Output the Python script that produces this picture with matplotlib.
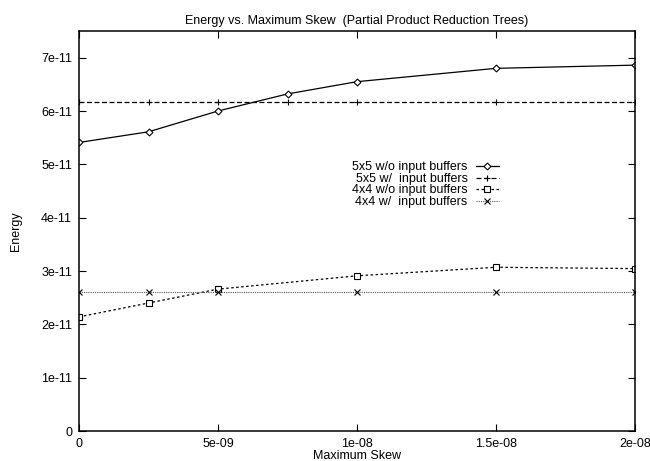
import numpy as np
import matplotlib
matplotlib.use('Agg')
import matplotlib.pyplot as plt
from matplotlib.ticker import FuncFormatter, FixedLocator

plt.rcParams['font.family'] = ['Liberation Sans', 'DejaVu Sans']

# data
skew5 = [0, 2.5e-9, 5e-9, 7.5e-9, 1e-8, 1.5e-8, 2e-8]
e5_wo = [5.41e-11, 5.61e-11, 6.00e-11, 6.32e-11, 6.55e-11, 6.80e-11, 6.86e-11]
e5_w = [6.16e-11, 6.16e-11, 6.16e-11, 6.16e-11, 6.16e-11, 6.16e-11, 6.16e-11]
skew4 = [0, 2.5e-9, 5e-9, 1e-8, 1.5e-8, 2e-8]
e4_wo = [2.14e-11, 2.40e-11, 2.66e-11, 2.91e-11, 3.07e-11, 3.045e-11]
e4_w = [2.61e-11, 2.61e-11, 2.61e-11, 2.61e-11, 2.61e-11, 2.61e-11]

labels = ['5x5 w/o input buffers', '5x5 w/  input buffers',
          '4x4 w/o input buffers', '4x4 w/  input buffers']
xticks = [0, 5e-9, 1e-8, 1.5e-8, 2e-8]
yticks = [0, 1e-11, 2e-11, 3e-11, 4e-11, 5e-11, 6e-11, 7e-11]

fs = 9
fig = plt.figure(figsize=(6.5, 4.61), dpi=100)
ax = fig.add_axes([79/650, 30/461, 556/650, 400/461])

ax.plot(skew5, e5_wo, color='black', lw=0.9, ls='-', marker='D', ms=3.5,
        mfc='white', mec='black', mew=0.8, label=labels[0])
ax.plot(skew5, e5_w, color='black', lw=0.9, ls=(0, (4, 2)), marker='+', ms=5,
        mew=0.8, label=labels[1])
ax.plot(skew4, e4_wo, color='black', lw=0.9, ls=(0, (2, 2)), marker='s', ms=4,
        mfc='white', mec='black', mew=0.8, label=labels[2])
ax.plot(skew4, e4_w, color='#555555', lw=0.8, ls=(0, (1, 1)), marker='x', ms=4,
        mec='black', mew=0.8, label=labels[3])

ax.set_xlim(0, 2e-8)
ax.set_ylim(0, 7.5e-11)
ax.xaxis.set_major_locator(FixedLocator(xticks))
ax.yaxis.set_major_locator(FixedLocator(yticks))
fmt = FuncFormatter(lambda v, p: '%g' % v)
ax.xaxis.set_major_formatter(fmt)
ax.yaxis.set_major_formatter(fmt)
ax.tick_params(direction='in', length=5, width=0.8, top=True, right=True,
               labelsize=fs, pad=5)
for s in ax.spines.values():
    s.set_linewidth(1.1)

ax.set_title('Energy vs. Maximum Skew  (Partial Product Reduction Trees)',
             fontsize=fs, pad=5)
ax.set_xlabel('Maximum Skew', fontsize=fs, labelpad=0)
ax.set_ylabel('Energy', fontsize=fs, labelpad=14)

ax.legend(loc='upper left', bbox_to_anchor=(0.491, 0.674), frameon=False,
          markerfirst=False, fontsize=fs, handlelength=1.85,
          handletextpad=0.65, labelspacing=-0.04, borderpad=0,
          borderaxespad=0)

fig.savefig('out.png', dpi=100)
